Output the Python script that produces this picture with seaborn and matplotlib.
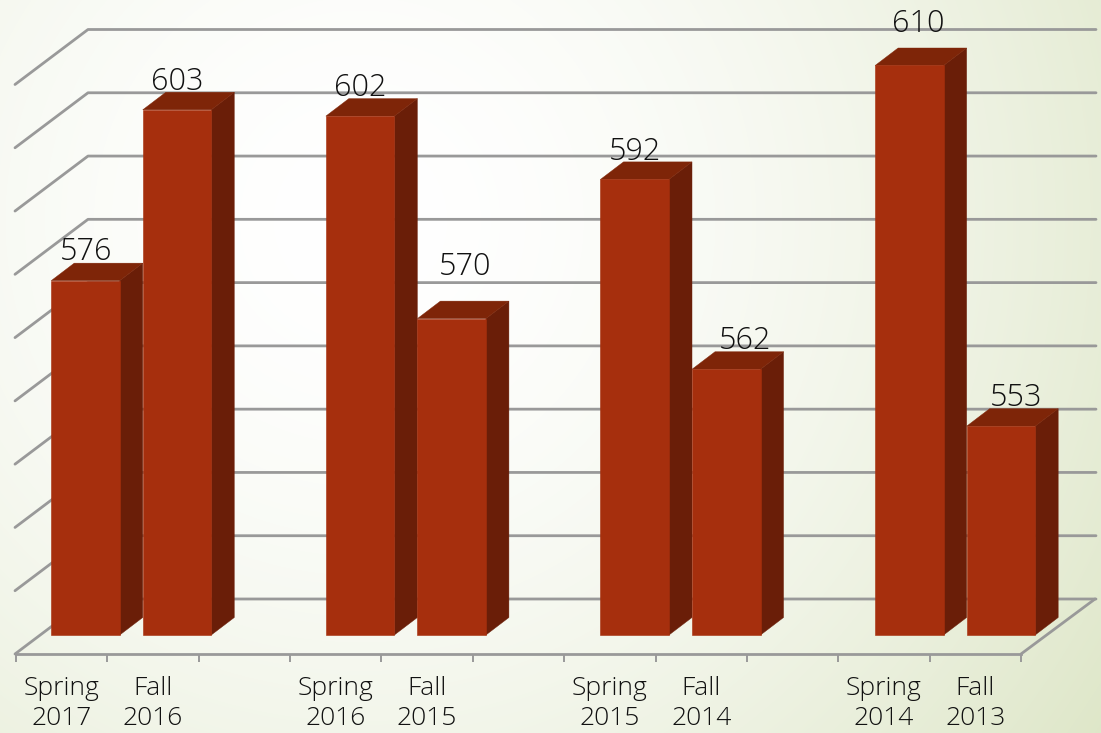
import numpy as np
import pandas as pd
import matplotlib
matplotlib.use("Agg")
import matplotlib.pyplot as plt
from matplotlib.colors import LinearSegmentedColormap
from matplotlib.lines import Line2D
from matplotlib.patches import Polygon
from matplotlib.transforms import Affine2D, IdentityTransform
import seaborn as sns

# Scores per term, newest first
terms = ["Spring\n2017", "Fall\n2016", "Spring\n2016", "Fall\n2015",
         "Spring\n2015", "Fall\n2014", "Spring\n2014", "Fall\n2013"]
scores = [576, 603, 602, 570, 592, 562, 610, 553]
# Slots along the axis; blank entries of growing length leave a gap between year pairs
slots = [terms[0], terms[1], " ",
         terms[2], terms[3], "  ",
         terms[4], terms[5], "   ",
         terms[6], terms[7]]
grid_values = list(range(520, 620, 10))

# Hand placement of value labels relative to each bar top, in pixels
label_dx = [24.5, 24, 24, 37.5, 25, 44, 34, 40.5]
label_dy = [47.5, 46.5, 47, 70.5, 46, 47, 60, 47]

W, H = 1101, 733
BAR_SHIFT = (23.8, 19)   # bars stand part-way into the floor
BAR_SPREAD = 0.18        # extra sideways drift per slot
BAR_DEPTH = (23, 17.5)   # extrusion of each bar
WALL_DEPTH = (72, 55)    # floor and wall depth
GRID_RIGHT = 1096
GRID = "#999999"
FRONT, SIDE, TOP = "#A62F0D", "#6A1E08", "#7E2508"

sns.set_theme(style="white")
plt.rcParams["font.family"] = ["Open Sans", "DejaVu Sans"]

fig = plt.figure(figsize=(W / 100, H / 100), dpi=100)

# Soft pale-green backdrop that brightens toward the upper left
bg = fig.add_axes([0, 0, 1, 1], zorder=0)
yy, xx = np.mgrid[0:H, 0:W]
dist = np.hypot(xx - 360, yy - 220) / 1000
shade = LinearSegmentedColormap.from_list("backdrop", ["#FFFFFF", "#D8E2BE"])
bg.imshow(np.clip(dist, 0, 1) ** 1.7, cmap=shade, vmin=0, vmax=1, aspect="auto")
bg.set_axis_off()

ax = fig.add_axes([16 / W, (H - 654) / H, 1005 / W, (654 - 84.5) / H], zorder=1)
ax.patch.set_alpha(0)

frame = pd.DataFrame({"term": terms, "score": scores})
sns.barplot(data=frame, x="term", y="score", order=slots, color=FRONT,
            saturation=1, width=0.75, errorbar=None, ax=ax, zorder=5)
ax.set_xlim(-0.5, 10.5)
ax.set_ylim(520, 610)
ax.set_xlabel("")
ax.set_ylabel("")
ax.set_yticks([])
sns.despine(ax=ax, left=True, top=True, right=True, bottom=False)
ax.spines["bottom"].set_color(GRID)
ax.spines["bottom"].set_linewidth(2.0)

ax.set_xticks(range(len(slots)), [s.strip() for s in slots])
ax.set_xticks(np.arange(-0.5, 11, 1), minor=True)
ax.tick_params(axis="x", which="major", length=0, pad=16, labelsize=19,
               labelcolor="#111111")
ax.tick_params(axis="x", which="minor", length=6, width=1.4, color=GRID, bottom=True)
for lbl in ax.get_xticklabels():
    lbl.set_linespacing(1.24)
    lbl.set_fontweight("light")

fig.canvas.draw()
to_px = ax.transData.transform


def screen_line(points, **kw):
    xs, ys = zip(*points)
    ax.add_line(Line2D(xs, ys, transform=IdentityTransform(), color=GRID, lw=2.0,
                       clip_on=False, solid_capstyle="round", **kw))


# Back wall and left wall rules
for v in grid_values:
    fx, fy = to_px((-0.5, v))
    bx, by = fx + WALL_DEPTH[0], fy + WALL_DEPTH[1]
    screen_line([(fx - 1, fy), (bx, by), (GRID_RIGHT, by)], zorder=2)

# Right edge of the floor
rx, ry = to_px((10.5, 520))
screen_line([(rx, ry), (rx + WALL_DEPTH[0] + 2, ry + WALL_DEPTH[1])], zorder=2)

# Extrude each bar from its own front rectangle
for order, (bar, term, value) in enumerate(zip(list(ax.patches), terms, scores)):
    offset = np.array([BAR_SHIFT[0] + BAR_SPREAD * slots.index(term), BAR_SHIFT[1]])
    bar.set_y(520)
    bar.set_height(value - 520)
    bar.set_transform(ax.transData + Affine2D().translate(*offset))
    bar.set_clip_on(False)
    bar.set_edgecolor(FRONT)
    bar.set_linewidth(0.4)
    x0 = bar.get_x()
    x1 = x0 + bar.get_width()
    lx, by = to_px((x0, 520)) + offset
    rx, ty = to_px((x1, value)) + offset
    dx, dy = BAR_DEPTH
    z = 5 + order * 0.1
    bar.set_zorder(z + 0.05)
    ax.add_patch(Polygon([(rx, by), (rx + dx, by + dy), (rx + dx, ty + dy), (rx, ty)],
                         transform=IdentityTransform(), facecolor=SIDE,
                         edgecolor=SIDE, linewidth=0.3, clip_on=False, zorder=z))
    ax.add_patch(Polygon([(lx, ty), (rx, ty), (rx + dx, ty + dy), (lx + dx, ty + dy)],
                         transform=IdentityTransform(), facecolor=TOP,
                         edgecolor=TOP, linewidth=0.3, clip_on=False, zorder=z))

# Value labels, each nudged by hand off its bar
for term, value, dx, dy in zip(terms, scores, label_dx, label_dy):
    ax.annotate(str(value), xy=(slots.index(term), value), xytext=(dx, dy),
                textcoords="offset pixels", ha="center", va="center",
                fontsize=22, fontweight="light", color="#111111",
                annotation_clip=False, zorder=20)

fig.savefig("out.png", dpi=100)
